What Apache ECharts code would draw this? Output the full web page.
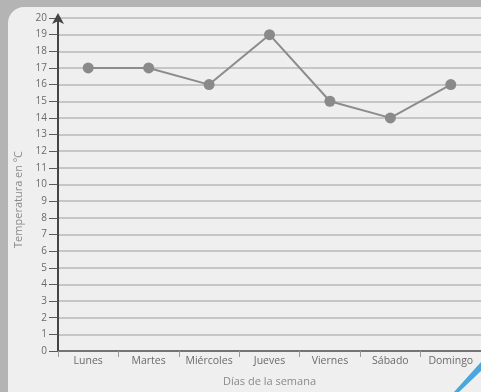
<!DOCTYPE html>
<html>
<head>
<meta charset="utf-8">
<script src="https://cdn.jsdelivr.net/npm/echarts@6/dist/echarts.min.js"></script>
<style>
  html, body { margin: 0; padding: 0; background: #b4b4b4; }
  #chart { width: 481px; height: 392px; }
</style>
</head>
<body>
<div id="chart"></div>
<script>
// Temperatura diaria a lo largo de la semana
const dias = ['Lunes', 'Martes', 'Miércoles', 'Jueves', 'Viernes', 'Sábado', 'Domingo'];
const temperaturas = [17, 17, 16, 19, 15, 14, 16];
const yMin = 0;
const yMax = 20;
const yPaso = 1;

const fuente = '"Open Sans", "DejaVu Sans", sans-serif';
const chart = echarts.init(document.getElementById('chart'), null, { renderer: 'canvas' });

chart.setOption({
  animation: false,
  backgroundColor: '#b4b4b4',
  graphic: [
    // hoja clara con esquina redondeada
    {
      type: 'rect', z: -10, silent: true,
      shape: { x: 8, y: 7, width: 520, height: 420, r: 16 },
      style: { fill: '#efefef' }
    },
    // marca azul en la esquina inferior derecha
    {
      type: 'polygon', z: -5, silent: true,
      shape: { points: [[454, 392], [481, 362], [481, 371], [459, 392]] },
      style: { fill: '#4ba6dc' }
    }
  ],
  grid: { left: 58, right: 0, top: 18, bottom: 36, containLabel: false },
  xAxis: {
    type: 'category',
    data: dias,
    boundaryGap: true,
    name: 'Días de la semana',
    nameLocation: 'middle',
    nameGap: 25,
    nameTextStyle: { color: '#8a8a8a', fontSize: 11, fontFamily: fuente },
    axisLine: { lineStyle: { color: '#5a5a5a', width: 1.5 } },
    axisTick: { show: true, length: 6, lineStyle: { color: '#9a9a9a', width: 1 } },
    axisLabel: { interval: 0, color: '#6a6a6a', fontSize: 10.5, fontFamily: fuente, margin: 5 },
    splitLine: { show: false }
  },
  yAxis: {
    type: 'value',
    min: yMin,
    max: yMax,
    interval: yPaso,
    name: 'Temperatura en ºC',
    nameLocation: 'middle',
    nameGap: 28,
    nameRotate: 90,
    nameTextStyle: { color: '#8a8a8a', fontSize: 11, fontFamily: fuente, padding: [0, 30, 0, 0] },
    axisLine: {
      show: true,
      symbol: ['none', 'arrow'],
      symbolSize: [9, 11],
      symbolOffset: [0, 5],
      lineStyle: { color: '#454545', width: 2 }
    },
    axisTick: { show: true, inside: false, length: 9, lineStyle: { color: '#5a5a5a', width: 1 } },
    axisLabel: { color: '#6a6a6a', fontSize: 10, fontFamily: fuente, margin: 11 },
    splitLine: { show: true, lineStyle: { color: '#b9b9b9', width: 1.5 } }
  },
  series: [{
    type: 'line',
    data: temperaturas,
    symbol: 'circle',
    symbolSize: 11,
    lineStyle: { color: '#8c8c8c', width: 2 },
    itemStyle: { color: '#8a8a8a' }
  }]
});
</script>
</body>
</html>
